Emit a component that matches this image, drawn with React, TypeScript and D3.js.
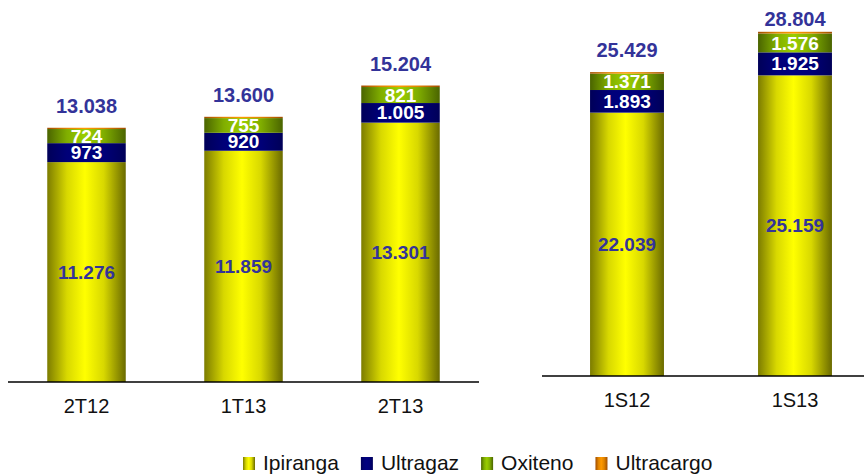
import { useEffect, useRef } from "react";
import * as d3 from "d3";

// quarterly panel
const quarters = ["2T12", "1T13", "2T13"];
const ipirangaQ = [11276, 11859, 13301];
const ultragazQ = [973, 920, 1005];
const oxitenoQ = [724, 755, 821];
const ultracargoQ = [65, 66, 77];
const totalsQ = [13038, 13600, 15204];

// semester panel
const semesters = ["1S12", "1S13"];
const ipirangaS = [22039, 25159];
const ultragazS = [1893, 1925];
const oxitenoS = [1371, 1576];
const ultracargoS = [126, 144];
const totalsS = [25429, 28804];

const seriesNames = ["Ipiranga", "Ultragaz", "Oxiteno", "Ultracargo"];

// edge, mid, centre, mid, edge
const gradients: Record<string, string[]> = {
    Ipiranga: ["#7c7c00", "#d8d800", "#ffff00", "#d8d800", "#6a6a00"],
    Ultragaz: ["#000058", "#000078", "#000080", "#000078", "#000058"],
    Oxiteno: ["#4a6400", "#80ae00", "#9acd00", "#80ae00", "#4a6400"],
    Ultracargo: ["#a04c00", "#e08400", "#ff9900", "#e08400", "#a04c00"],
};
const stopOffsets = ["0%", "25%", "48%", "72%", "100%"];

const labelColor: Record<string, string | null> = {
    Ipiranga: "#333399",
    Ultragaz: "#ffffff",
    Oxiteno: "#ffffff",
    Ultracargo: null,
};

const FONT = "Arial, 'Liberation Sans', sans-serif";
const W = 864;
const H = 474;

const fmt = d3
    .formatLocale({ decimal: ",", thousands: ".", grouping: [3], currency: ["R$", ""] })
    .format(",d");

export default function App() {
    const svgRef = useRef<SVGSVGElement>(null);

    useEffect(() => {
        if (!svgRef.current) return;
        const svg = d3.select(svgRef.current);
        svg.selectAll("*").remove();

        const defs = svg.append("defs");
        seriesNames.forEach((name) => {
            const g = defs
                .append("linearGradient")
                .attr("id", `grad-${name}`)
                .attr("x1", "0%")
                .attr("x2", "100%")
                .attr("y1", "0%")
                .attr("y2", "0%");
            gradients[name].forEach((c, i) => {
                g.append("stop").attr("offset", stopOffsets[i]).attr("stop-color", c);
            });
        });

        const drawPanel = (
            cats: string[],
            cols: number[][],
            totals: number[],
            xRange: [number, number],
            axisY: number,
            yMax: number,
            yTop: number,
            axisEnd: number,
            pad: [number, number]
        ) => {
            const x = d3.scaleBand().domain(cats).range(xRange).paddingInner(pad[0]).paddingOuter(pad[1]);
            const y = d3.scaleLinear().domain([0, yMax]).range([axisY, yTop]);

            const rows = cats.map((c, i) => {
                const r: Record<string, number | string> = { cat: c };
                seriesNames.forEach((s, k) => (r[s] = cols[k][i]));
                return r;
            });
            // eslint-disable-next-line @typescript-eslint/no-explicit-any
            const stack = d3.stack<any>().keys(seriesNames)(rows as any);

            const g = svg.append("g");
            stack.forEach((layer) => {
                const name = layer.key;
                g.selectAll(null)
                    .data(layer)
                    .enter()
                    .append("rect")
                    .attr("x", (d) => x(d.data.cat as string)!)
                    .attr("width", x.bandwidth())
                    .attr("y", (d) => y(d[1]))
                    .attr("height", (d) => y(d[0]) - y(d[1]))
                    .attr("fill", `url(#grad-${name})`);
            });

            // segment labels drawn after all rects so they sit on top
            stack.forEach((layer) => {
                const col = labelColor[layer.key];
                if (!col) return;
                g.selectAll(null)
                    .data(layer)
                    .enter()
                    .append("text")
                    .attr("x", (d) => x(d.data.cat as string)! + x.bandwidth() / 2)
                    .attr("y", (d) => (y(d[0]) + y(d[1])) / 2)
                    .attr("dy", "0.35em")
                    .attr("text-anchor", "middle")
                    .attr("font-family", FONT)
                    .attr("font-weight", "bold")
                    .attr("font-size", 19)
                    .attr("fill", col)
                    .text((d) => fmt(d[1] - d[0]));
            });

            // totals
            g.selectAll(null)
                .data(cats)
                .enter()
                .append("text")
                .attr("x", (c) => x(c)! + x.bandwidth() / 2)
                .attr("y", (c, i) => Math.max(y(totals[i]) - 15, 26))
                .attr("text-anchor", "middle")
                .attr("font-family", FONT)
                .attr("font-weight", "bold")
                .attr("font-size", 20)
                .attr("fill", "#333399")
                .text((c, i) => fmt(totals[i]));

            // axis
            g.append("line")
                .attr("x1", xRange[0])
                .attr("x2", axisEnd)
                .attr("y1", axisY)
                .attr("y2", axisY)
                .attr("stroke", "#000")
                .attr("stroke-width", 1.5);

            g.selectAll(null)
                .data(cats)
                .enter()
                .append("text")
                .attr("x", (c) => x(c)! + x.bandwidth() / 2)
                .attr("y", axisY + 31)
                .attr("text-anchor", "middle")
                .attr("font-family", FONT)
                .attr("font-size", 20)
                .attr("fill", "#111")
                .text((c) => c);
        };

        drawPanel(
            quarters,
            [ipirangaQ, ultragazQ, oxitenoQ, ultracargoQ],
            totalsQ,
            [8, 479],
            382,
            16000,
            70,
            479,
            [0.5, 0.25]
        );
        drawPanel(
            semesters,
            [ipirangaS, ultragazS, oxitenoS, ultracargoS],
            totalsS,
            [542, 880],
            376,
            30000,
            17.5,
            864,
            [0.56, 0.286]
        );

        // legend
        const leg = svg.append("g").attr("transform", "translate(243,457)");
        let cx = 0;
        seriesNames.forEach((name) => {
            leg.append("rect")
                .attr("x", cx)
                .attr("y", 0)
                .attr("width", 12)
                .attr("height", 13)
                .attr("fill", `url(#grad-${name})`);
            const t = leg
                .append("text")
                .attr("x", cx + 20)
                .attr("y", 13)
                .attr("font-family", FONT)
                .attr("font-size", 21)
                .attr("fill", "#111")
                .text(name);
            const len = (t.node() as SVGTextElement).getComputedTextLength();
            cx += 20 + len + 22;
        });
    }, []);

    return (
        <svg
            ref={svgRef}
            width={W}
            height={H}
            viewBox={`0 0 ${W} ${H}`}
            style={{ position: "absolute", left: 0, top: 0, background: "#fff" }}
        />
    );
}
